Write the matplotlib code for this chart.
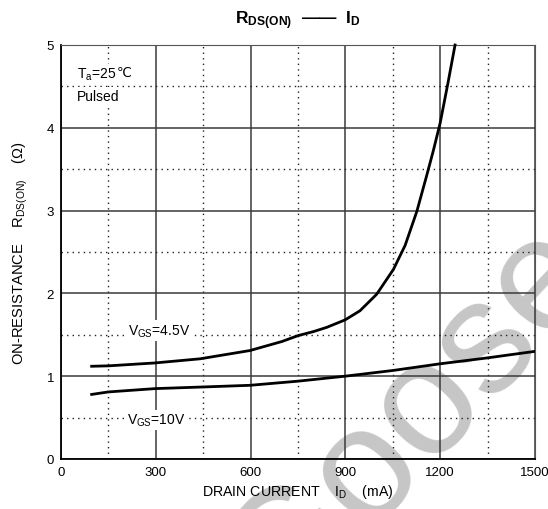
import numpy as np
import matplotlib
matplotlib.use('Agg')
from matplotlib import pyplot as plt
from matplotlib.ticker import MultipleLocator

plt.rcParams['font.family'] = ['Liberation Sans', 'DejaVu Sans']
plt.rcParams['mathtext.fontset'] = 'custom'
plt.rcParams['mathtext.rm'] = 'Liberation Sans'
plt.rcParams['mathtext.it'] = 'Liberation Sans'
plt.rcParams['mathtext.bf'] = 'Liberation Sans:bold'

# drain current (mA) and on-resistance (ohm)
id_45 = [97, 150, 297, 440, 598, 700, 750, 800, 841, 899, 946, 999, 1052, 1089, 1126, 1157, 1178, 1200, 1225, 1247]
r_45 = [1.12, 1.125, 1.16, 1.21, 1.31, 1.42, 1.49, 1.54, 1.59, 1.68, 1.79, 1.99, 2.29, 2.58, 2.99, 3.42, 3.72, 4.06, 4.55, 5.00]

id_10 = [97, 150, 297, 450, 598, 750, 899, 1052, 1200, 1347, 1500]
r_10 = [0.78, 0.81, 0.85, 0.87, 0.89, 0.94, 1.00, 1.07, 1.15, 1.22, 1.30]

x_ticks = [0, 300, 600, 900, 1200, 1500]
y_ticks = [0, 1, 2, 3, 4, 5]

fig = plt.figure(figsize=(5.48, 5.10), dpi=100, facecolor='w')
ax = fig.add_axes([61 / 548, 1 - 460 / 510, 474 / 548, 414 / 510])

ax.set_xlim(0, 1500)
ax.set_ylim(0, 5)
ax.set_xticks(x_ticks)
ax.set_yticks(y_ticks)
ax.xaxis.set_minor_locator(MultipleLocator(150))
ax.yaxis.set_minor_locator(MultipleLocator(0.5))
ax.grid(which='major', color='#3a3a3a', linewidth=1.1, linestyle='-')
ax.grid(which='minor', color='#222222', linewidth=1.0, linestyle=(0, (1, 3)))
ax.tick_params(which='both', length=0, labelsize=9.5, pad=5)
for s in ['top', 'right']:
    ax.spines[s].set_color('#555555')
for s in ['left', 'bottom']:
    ax.spines[s].set_color('black')
    ax.spines[s].set_linewidth(1.3)

ax.plot(id_45, r_45, color='k', linewidth=2, zorder=4, clip_on=False)
ax.plot(id_10, r_10, color='k', linewidth=2, zorder=4)

box = dict(facecolor='white', edgecolor='none', pad=1.5)
ax.text(212, 1.55, r'V$_{\mathregular{GS}}$=4.5V', fontsize=10, va='center', bbox=box, zorder=3)
ax.text(208, 0.47, r'V$_{\mathregular{GS}}$=10V', fontsize=10, va='center', bbox=box, zorder=3)

t_a = ax.text(51, 4.65, r'T$_{\mathregular{a}}$=25', fontsize=10, va='center', bbox=box, zorder=3)
ax.annotate('℃', xy=(1, 0.62), xycoords=t_a, fontsize=9.5, va='center', ha='left',
            family=['DejaVu Sans', 'Noto Sans CJK SC'], zorder=3)
ax.text(51, 4.38, 'Pulsed', fontsize=10, va='center', bbox=box, zorder=3)

# faint watermark
ax.text(412 / 548, 1 - 420 / 510, 'Goose', transform=fig.transFigure, fontsize=116, color='#c6c6c6',
        rotation=47, ha='center', va='center', zorder=1.5, clip_on=False)

fig.text(298 / 548, 1 - 21 / 510, r'$\mathbf{R_{DS(ON)}}$' + '  ——  ' + r'$\mathbf{I_{D}}$',
         ha='center', va='center', fontsize=12.5, fontweight='bold')
ax.set_xlabel(r'DRAIN CURRENT    I$_{\mathregular{D}}$    (mA)', fontsize=10.2, labelpad=3)
ax.set_ylabel(r'ON-RESISTANCE    R$_{\mathregular{DS(ON)}}$    ($\Omega$)', fontsize=10.6, labelpad=12)

fig.savefig('out.png', dpi=100)
